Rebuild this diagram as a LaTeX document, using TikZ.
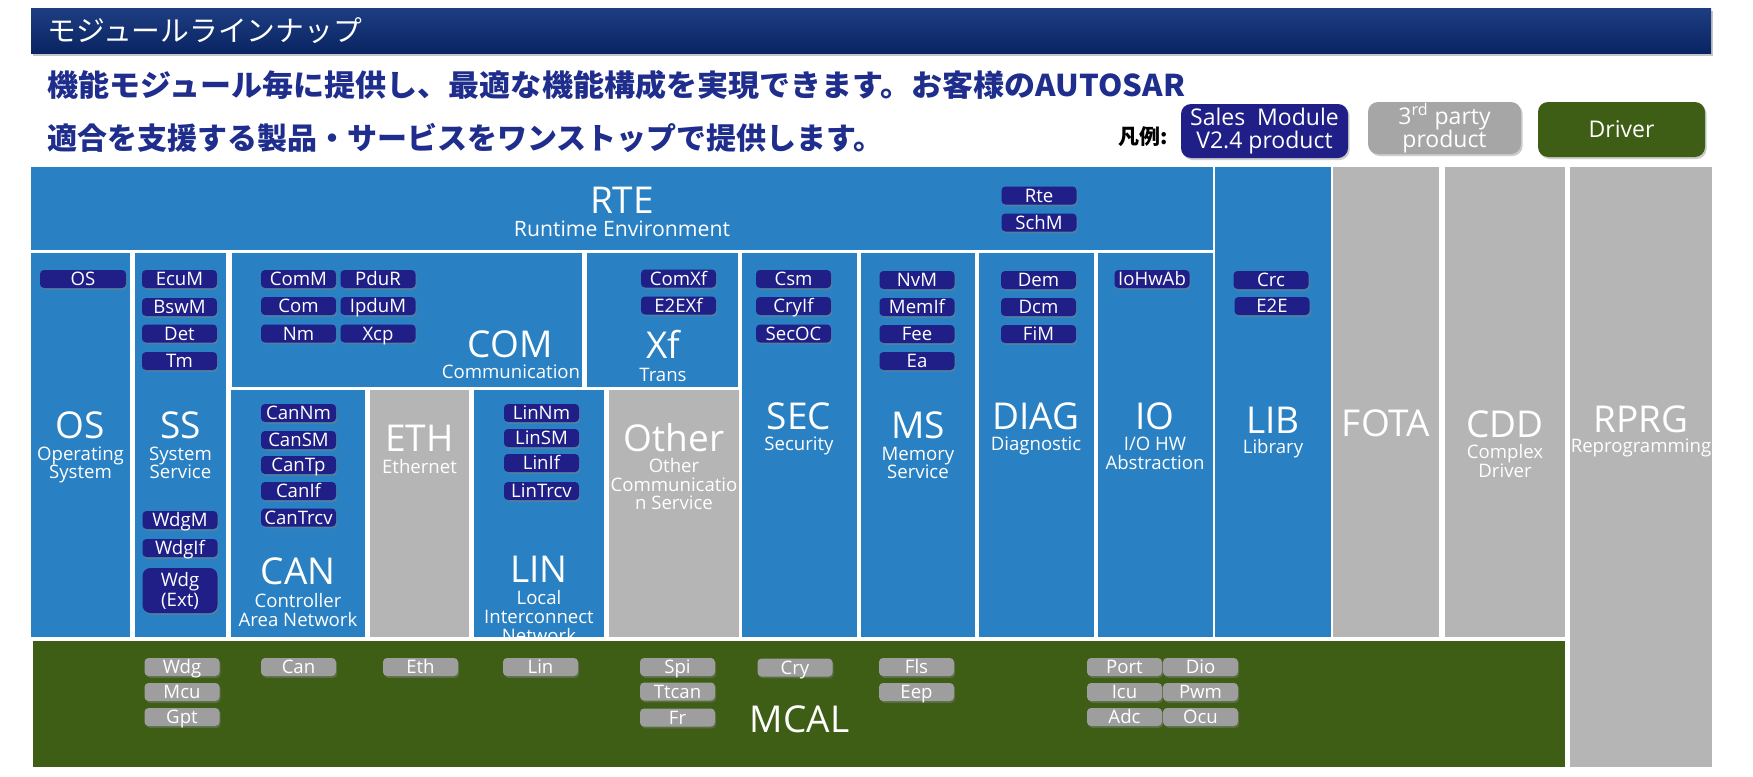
\documentclass[tikz,border=0pt]{standalone}
\usepackage{fontspec}
\setmainfont{Open Sans}
\newfontfamily\jpfont{Noto Sans CJK JP}
\usetikzlibrary{shadows}
\definecolor{blockblue}{RGB}{41,128,194}
\definecolor{blockgray}{RGB}{181,181,181}
\definecolor{mcalgreen}{RGB}{61,94,20}
\definecolor{salesnavy}{RGB}{31,31,135}
\definecolor{modgray}{RGB}{158,158,158}
\definecolor{legendgray}{RGB}{166,166,166}
\definecolor{headblue}{RGB}{31,45,140}
\definecolor{titlenavy}{RGB}{9,36,98}
\definecolor{titletop}{RGB}{30,62,130}

\begin{document}
\begin{tikzpicture}[
    x=0.5pt, y=-0.5pt,
    blueblk/.style={fill=blockblue},
    grayblk/.style={fill=blockgray},
    biglbl/.style={font=\fontsize{18.5}{18.5}\selectfont, text=white, anchor=base, inner sep=0pt},
    sublbl/.style={font=\fontsize{9.3}{9.3}\selectfont, text=white, anchor=base, inner sep=0pt},
    modbase/.style={rounded corners=2pt, text=white, inner sep=0pt,
                    font=\fontsize{9.3}{10}\selectfont,
                    drop shadow={shadow xshift=0.6pt, shadow yshift=-0.9pt, opacity=0.45}},
    salesmod/.style={modbase, fill=salesnavy, minimum width=37.5pt, minimum height=9pt,
                     text height=6.6pt, text depth=0pt},
    thirdmod/.style={salesmod, fill=modgray},
    legendbox/.style={rounded corners=5pt, text=white, align=center, inner sep=0pt,
                      font=\fontsize{11.5}{11.5}\selectfont,
                      drop shadow={shadow xshift=0.8pt, shadow yshift=-1pt, opacity=0.4}},
    headline/.style={font=\jpfont\bfseries\fontsize{15}{15}\selectfont, text=headblue,
                     anchor=west, inner sep=0pt}
]
\useasboundingbox (0,0) rectangle (1753,777);
\fill[white] (0,0) rectangle (1753,777);

% title and lead text
\shade[top color=titletop, bottom color=titlenavy,
       drop shadow={shadow xshift=0.8pt, shadow yshift=-1.5pt, opacity=0.45}]
    (31,8) rectangle (1711,53);
\node[font=\jpfont\fontsize{14.4}{14.4}\selectfont, text=white, anchor=west, inner sep=0pt]
    (title) at (47,31) {モジュールラインナップ};
\node[headline] (lead1) at (47,85)
    {\scalebox{1.035}[1]{機能モジュール毎に提供し、最適な機能構成を実現できます。お客様のAUTOSAR}};
\node[headline] (lead2) at (47,138) {適合を支援する製品・サービスをワンストップで提供します。};

% legend
\node[font=\jpfont\bfseries\fontsize{10.5}{10.5}\selectfont, anchor=east, inner sep=0pt]
    (legend) at (1168,137) {凡例:};
\node[legendbox, fill=salesnavy, minimum width=83.5pt, minimum height=27pt]
    (legsales) at (1264.5,131) {Sales\ \ Module\\V2.4 product};
\node[legendbox, fill=legendgray, minimum width=76.5pt, minimum height=26pt]
    (legthird) at (1444.5,128) {3\textsuperscript{rd} party\\product};
\node[legendbox, fill=mcalgreen, minimum width=83.5pt, minimum height=27.5pt]
    (legdriver) at (1621.5,129.5) {Driver};

% layer blocks
\fill[blueblk] (31,167) rectangle (1213,250);
\fill[blueblk] (1215,167) rectangle (1331,637);
\fill[grayblk] (1333,167) rectangle (1439,637);
\fill[grayblk] (1445,167) rectangle (1565,637);
\fill[grayblk] (1570,167) rectangle (1712,767);
\fill[blueblk] (31,253) rectangle (130,637);
\fill[blueblk] (135,253) rectangle (226,637);
\fill[blueblk] (232,253) rectangle (582,387);
\fill[blueblk] (587,253) rectangle (738,387);
\fill[blueblk] (231,390) rectangle (365,637);
\fill[grayblk] (370,390) rectangle (469,637);
\fill[blueblk] (474,390) rectangle (604,637);
\fill[grayblk] (609,390) rectangle (739,637);
\fill[blueblk] (742,253) rectangle (857,637);
\fill[blueblk] (861,253) rectangle (975,637);
\fill[blueblk] (979,253) rectangle (1094,637);
\fill[blueblk] (1098,253) rectangle (1213,637);

% block names
\node[biglbl] (rtel) at (622,213) {RTE};
\node[sublbl, font=\fontsize{10.6}{10.6}\selectfont] (rtes) at (622,236) {Runtime Environment};
\node[biglbl] (osl) at (80.5,438) {OS};
\node[sublbl] (oss1) at (80.5,460) {Operating};
\node[sublbl] (oss2) at (80.5,478) {System};
\node[biglbl] (ssl) at (180.5,438) {SS};
\node[sublbl] (sss1) at (180.5,460) {System};
\node[sublbl] (sss2) at (180.5,478) {Service};
\node[biglbl] (coml) at (510,357) {COM};
\node[sublbl] (coms) at (511,378) {Communication};
\node[biglbl] (xfl) at (663,358) {Xf};
\node[sublbl] (xfs) at (663,381) {Trans};
\node[biglbl] (canl) at (298,584) {CAN};
\node[sublbl] (cans1) at (298,607) {Controller};
\node[sublbl] (cans2) at (298,626) {Area Network};
\node[biglbl] (ethl) at (419.5,451) {ETH};
\node[sublbl] (eths) at (419.5,473) {Ethernet};
\node[biglbl] (linl) at (539,582) {LIN};
\node[sublbl] (lins1) at (539,604) {Local};
\node[sublbl] (lins2) at (539,623) {Interconnect};
\node[sublbl] (lins3) at (539,642) {Network};
\node[biglbl] (othl) at (674,451) {Other};
\node[sublbl] (oths1) at (674,472) {Other};
\node[sublbl] (oths2) at (674,491) {Communicatio};
\node[sublbl] (oths3) at (674,509) {n Service};
\node[biglbl] (secl) at (799,429) {SEC};
\node[sublbl] (secs) at (799,450) {Security};
\node[biglbl] (msl) at (918,438) {MS};
\node[sublbl] (mss1) at (918,460) {Memory};
\node[sublbl] (mss2) at (918,478) {Service};
\node[biglbl] (diagl) at (1036,429) {DIAG};
\node[sublbl] (diags) at (1036,450) {Diagnostic};
\node[biglbl] (iol) at (1155,429) {IO};
\node[sublbl] (ios1) at (1155,450) {I/O HW};
\node[sublbl] (ios2) at (1155,469) {Abstraction};
\node[biglbl] (libl) at (1273,433) {LIB};
\node[sublbl] (libs) at (1273,453) {Library};
\node[biglbl] (fotal) at (1386,436) {FOTA};
\node[biglbl] (cddl) at (1505,437) {CDD};
\node[sublbl] (cdds1) at (1505,458) {Complex};
\node[sublbl] (cdds2) at (1505,477) {Driver};
\node[biglbl] (rprgl) at (1641,432) {RPRG};
\node[sublbl] (rprgs) at (1641,452) {Reprogramming};

% sales modules
\node[salesmod] (rte) at (1039,195.5) {Rte};
\node[salesmod] (schm) at (1039,222.5) {SchM};
\node[salesmod, minimum width=43pt] (os) at (83,279) {OS};
\node[salesmod] (ecum) at (179.5,279) {EcuM};
\node[salesmod] (bswm) at (179.5,307) {BswM};
\node[salesmod] (det) at (179.5,333.5) {Det};
\node[salesmod] (tm) at (179.5,361) {Tm};
\node[salesmod] (wdgm) at (180,520) {WdgM};
\node[salesmod] (wdgif) at (180,548) {WdgIf};
\node[modbase, fill=salesnavy, rounded corners=4pt, minimum width=37.5pt, minimum height=22.5pt,
      align=center] (wdgext) at (180,590.5) {Wdg\\(Ext)};
\node[salesmod] (comm) at (298.5,279) {ComM};
\node[salesmod] (pdur) at (378,279) {PduR};
\node[salesmod] (com) at (298.5,306) {Com};
\node[salesmod] (ipdum) at (378,306) {IpduM};
\node[salesmod] (nm) at (298.5,333.5) {Nm};
\node[salesmod] (xcp) at (378,333.5) {Xcp};
\node[salesmod] (comxf) at (678.5,278.5) {ComXf};
\node[salesmod] (e2exf) at (678.5,305.5) {E2EXf};
\node[salesmod] (csm) at (793.5,279) {Csm};
\node[salesmod] (cryif) at (793.5,306) {CryIf};
\node[salesmod] (secoc) at (793.5,333.5) {SecOC};
\node[salesmod] (nvm) at (917,280) {NvM};
\node[salesmod] (memif) at (917,307) {MemIf};
\node[salesmod] (fee) at (917,334) {Fee};
\node[salesmod] (ea) at (917,361) {Ea};
\node[salesmod] (dem) at (1038.5,280) {Dem};
\node[salesmod] (dcm) at (1038.5,307) {Dcm};
\node[salesmod] (fim) at (1038.5,334) {FiM};
\node[salesmod] (iohwab) at (1152,279) {IoHwAb};
\node[salesmod] (crc) at (1271,280) {Crc};
\node[salesmod] (e2e) at (1272,306) {E2E};
\node[salesmod] (cannm) at (298.5,413) {CanNm};
\node[salesmod] (cansm) at (298.5,440) {CanSM};
\node[salesmod] (cantp) at (298.5,465) {CanTp};
\node[salesmod] (canif) at (298.5,491) {CanIf};
\node[salesmod] (cantrcv) at (298.5,517.5) {CanTrcv};
\node[salesmod] (linnm) at (541.5,413) {LinNm};
\node[salesmod] (linsm) at (541.5,438) {LinSM};
\node[salesmod] (linif) at (541.5,463) {LinIf};
\node[salesmod] (lintrcv) at (541.5,491) {LinTrcv};

% MCAL layer with drivers
\fill[mcalgreen] (33,641) rectangle (1565,767);
\node[biglbl] (mcall) at (799.5,732) {MCAL};
\node[thirdmod] (wdg) at (182,667) {Wdg};
\node[thirdmod] (mcu) at (182,692) {Mcu};
\node[thirdmod] (gpt) at (182,717) {Gpt};
\node[thirdmod] (can) at (298.5,667) {Can};
\node[thirdmod] (eth) at (420.5,667) {Eth};
\node[thirdmod] (lin) at (540.5,667) {Lin};
\node[thirdmod] (spi) at (677.5,667) {Spi};
\node[thirdmod] (ttcan) at (677.5,691.5) {Ttcan};
\node[thirdmod] (fr) at (677.5,717.5) {Fr};
\node[thirdmod] (cry) at (795,667.5) {Cry};
\node[thirdmod] (fls) at (916.5,667) {Fls};
\node[thirdmod] (eep) at (916.5,692) {Eep};
\node[thirdmod] (port) at (1124.5,667) {Port};
\node[thirdmod] (dio) at (1200.5,667) {Dio};
\node[thirdmod] (icu) at (1124.5,692) {Icu};
\node[thirdmod] (pwm) at (1200.5,692) {Pwm};
\node[thirdmod] (adc) at (1124.5,717) {Adc};
\node[thirdmod] (ocu) at (1200.5,717) {Ocu};
\end{tikzpicture}
\end{document}
